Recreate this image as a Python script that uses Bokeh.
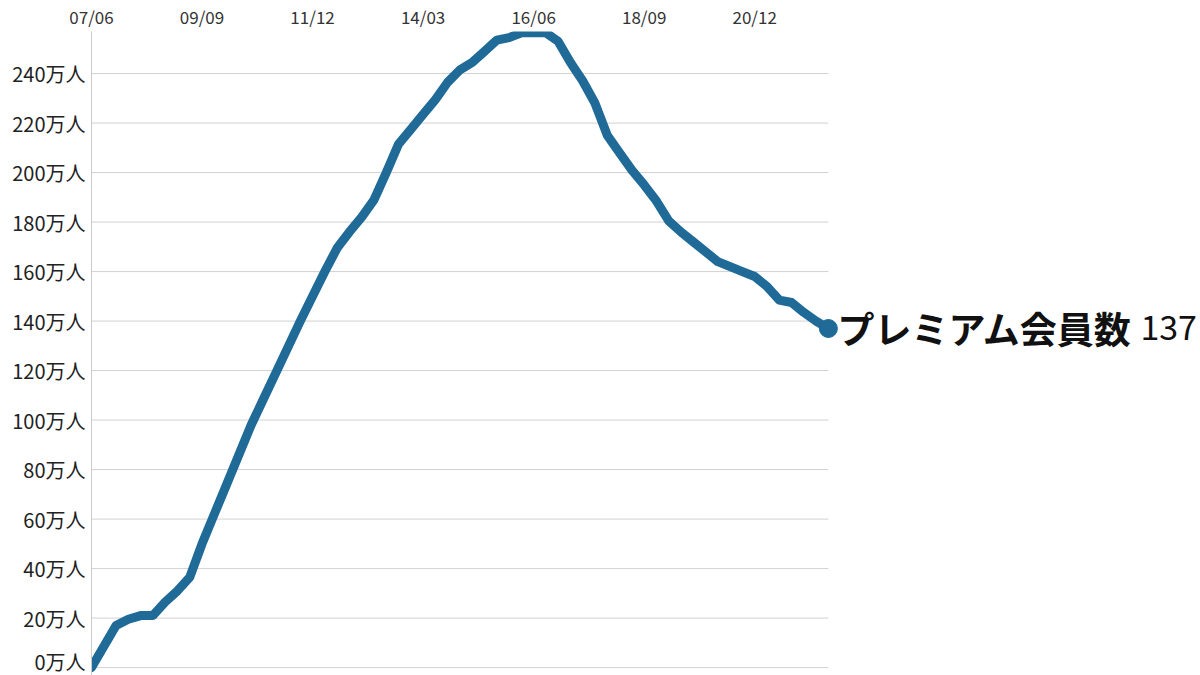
from bokeh.plotting import figure
from bokeh.models import FixedTicker, Range1d, ColumnDataSource
from bokeh.core.properties import value
from bokeh.embed import file_html
from bokeh.resources import INLINE

# Quarterly premium members (万人), 2007/06 .. 2022/06
members = [0, 8.5, 17, 19.5, 21, 21, 26.5, 31, 36.5, 50,
           62, 74, 86, 98, 108.5, 119, 129.5, 140, 150, 160,
           169.5, 176, 182, 189, 200, 211.5, 217.5, 223.5, 229.5, 236.5,
           241.5, 244.5, 249, 253.5, 254.5, 256.5, 256.5, 256.5, 253, 244.5,
           237, 228, 215, 208, 201, 195, 188.5, 180.5, 176, 172,
           168, 164, 162, 160, 158, 154, 148.5, 147.5, 143.5, 140,
           137]
quarter_index = list(range(len(members)))
tick_positions = [0, 9, 18, 27, 36, 45, 54]
tick_labels = ["07/06", "09/09", "11/12", "14/03", "16/06", "18/09", "20/12"]
y_ticks = [0, 20, 40, 60, 80, 100, 120, 140, 160, 180, 200, 220, 240]
series_name = "プレミアム会員数"
last_value = "137"

FONT = "Noto Sans CJK JP"
BLUE = "#1f6a96"

p = figure(width=1200, height=675, output_backend="svg", toolbar_location=None,
           x_range=Range1d(0, 90.3), y_range=Range1d(-3.2, 257.0),
           x_axis_location="above",
           min_border_left=91, min_border_right=0, min_border_top=30, min_border_bottom=0)
p.outline_line_color = None
p.xgrid.visible = False
p.ygrid.visible = False
p.background_fill_color = "white"

# horizontal gridlines limited to the data span
p.segment(x0=[quarter_index[0]] * len(y_ticks), x1=[quarter_index[-1]] * len(y_ticks),
          y0=y_ticks, y1=y_ticks, line_color="#d2d2d2", line_width=1)

xa = p.xaxis[0]
xa.ticker = FixedTicker(ticks=tick_positions)
xa.major_label_overrides = {t: l for t, l in zip(tick_positions, tick_labels)}
xa.axis_line_color = None
xa.major_tick_line_color = None
xa.major_tick_out = 0
xa.major_tick_in = 0
xa.minor_tick_line_color = None
xa.major_label_text_font = FONT
xa.major_label_text_font_size = "17px"
xa.major_label_text_color = "#333333"
xa.major_label_standoff = 3

ya = p.yaxis[0]
ya.ticker = FixedTicker(ticks=y_ticks)
ya.major_label_overrides = {t: f"{t}万人" for t in y_ticks}
ya.axis_line_color = "#cccccc"
ya.major_tick_line_color = None
ya.major_tick_out = 0
ya.major_tick_in = 0
ya.minor_tick_line_color = None
ya.major_label_text_font = FONT
ya.major_label_text_font_size = "20px"
ya.major_label_text_color = "#222222"
ya.major_label_standoff = 6

src = ColumnDataSource(dict(x=quarter_index, y=members))
p.line("x", "y", source=src, line_color=BLUE, line_width=9, line_join="round", line_cap="round")
p.scatter([quarter_index[-1]], [members[-1]], size=18, color=BLUE)

p.text([quarter_index[-1]], [members[-1]], text=[series_name], x_offset=9, y_offset=-1,
       text_font=value(FONT), text_font_size="37px", text_font_style="bold",
       text_baseline="middle", text_align="left", text_color="#111111")
p.text([quarter_index[-1]], [members[-1]], text=[last_value], x_offset=312, y_offset=-1,
       text_font=value(FONT), text_font_size="34px",
       text_baseline="middle", text_align="left", text_color="#111111")

open("out.html", "w").write(file_html(p, INLINE))
